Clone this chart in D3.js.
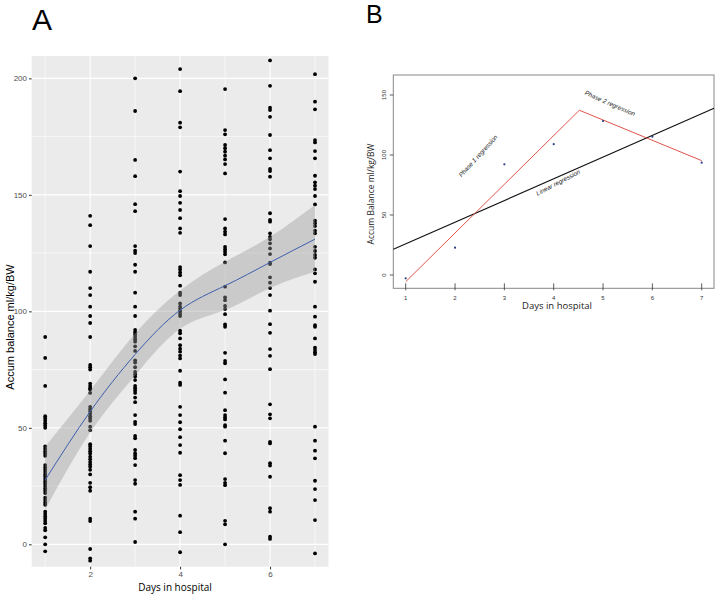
<!DOCTYPE html>
<html><head><meta charset="utf-8">
<script src="https://cdn.jsdelivr.net/npm/d3@7"></script>
<style>body{margin:0;background:#fff}svg{display:block}</style>
</head><body><svg id="c" width="716" height="595"></svg>
<script>
// ---------- Panel A data ----------
const days = [1, 2, 3, 4, 5, 6, 7];
const day1 = [89, 80, 68, 55, 54, 53, 52, 51, 50, 42, 41, 40, 39, 38, 34, 33, 32, 31, 30, 29, 28, 27, 26, 25, 24, 23, 22, 20, 19, 18, 17, 14, 13, 12, 11, 10, 9, 7, 6, 3, 0, -3];
const day2 = [141, 137, 128, 117, 110, 107, 102, 98, 95, 89, 77, 76, 75, 69, 68, 67, 66.5, 65, 59, 58, 57, 56, 55, 54, 53, 50.5, 49, 43, 42, 41, 40, 39, 37.6, 36.5, 35.3, 34.3, 33.3, 32, 30, 26.4, 24.5, 23, 11, 10, -2, -6, -7];
const day3 = [200, 186, 165, 158, 146, 143, 128, 126, 125, 120, 117, 108, 102, 98, 92, 91, 90, 89, 88, 87, 85, 83, 79, 78, 76, 74, 73, 72, 70.5, 68, 67, 66, 65, 63, 61, 55.5, 52.6, 51.6, 46.5, 45.5, 40.5, 39, 38, 37, 34, 27.6, 26, 14, 11, 1];
const day4 = [204, 194.5, 181, 179, 160, 151.6, 149.5, 146.6, 143.5, 140, 135.6, 133.7, 119, 118, 116.7, 115.5, 111, 108, 107, 103.4, 102, 101, 100, 99, 98, 91.7, 90.6, 88.4, 85.5, 84, 82.7, 81, 79.8, 74.5, 69.4, 68.4, 59, 55.5, 52.4, 49.4, 46, 42.6, 39.3, 29.7, 27.6, 25.5, 12.3, 5.2, -3.4];
const day5 = [195.4, 177.8, 176, 171.4, 170, 168.5, 166.8, 165.2, 163.2, 159.2, 139.6, 135.6, 134.2, 133, 127.7, 126.7, 125.6, 124.5, 121, 110.6, 106, 104.8, 102.3, 101, 98.8, 94.4, 93.4, 82.2, 78.7, 77.7, 70.8, 65.1, 57.6, 55.5, 54.5, 53.6, 51.2, 50.5, 44.5, 39.1, 28, 26.4, 25.4, 10.1, 8.6, 0];
const day6 = [207.7, 196.8, 187.4, 186.4, 183.5, 175.7, 169.2, 165.7, 161.1, 160.2, 157.8, 142.1, 139.2, 138.5, 133.5, 132, 130.9, 129.2, 127, 124.6, 120.9, 120.3, 114.6, 112.3, 110, 107, 100.3, 94.5, 90.8, 83.8, 80.9, 75.2, 60.1, 55.8, 54.1, 44, 43.3, 34.8, 33.8, 29, 15.5, 14, 3.3, 2.3];
const day7 = [201.8, 190, 186.7, 173.5, 172.5, 168.8, 165.7, 158.2, 155.4, 153.9, 152.5, 149.5, 145.9, 138.9, 137.8, 136.6, 134.6, 133.5, 127.7, 125.9, 124.2, 123, 118, 116.3, 112.7, 102, 97.7, 94.1, 93.4, 88.4, 84.4, 83.4, 82.4, 81.7, 50.5, 44.5, 40.2, 36.9, 27.3, 23.7, 19, 10.4, -3.9];
const smoothFit = [27.6, 57, 81.5, 100.5, 111, 121, 131];
const smoothLo = [15, 48, 72.5, 92.5, 100.6, 110, 117];
const smoothHi = [42, 66, 90.5, 109, 121.3, 132, 145.6];
const xTicksA = [2, 4, 6];
const yTicksA = [0, 50, 100, 150, 200];
const xMinorA = [1, 3, 5, 7];
const yMinorA = [25, 75, 125, 175];

// ---------- Panel B data ----------
const daysB = [1, 2, 3, 4, 5, 6, 7];
const balanceB = [-2.75, 22.8, 92.2, 109, 128.3, 115.3, 93.6];
const phaseX = [1, 4.52, 7];
const phaseY = [-5.6, 137.3, 95.3];
const linX = [0.75, 7.25];
const linY = [21.4, 138.9];
const xTicksB = [1, 2, 3, 4, 5, 6, 7];
const yTicksB = [0, 50, 100, 150];

const svg = d3.select("#c");
const sans = "'Liberation Sans', Arial, sans-serif";
const human = "'Open Sans', 'Noto Sans', sans-serif";

// ================= Panel A =================
const xA = d3.scaleLinear().domain([0.7, 7.3]).range([31.7, 328.5]);
const yA = d3.scaleLinear().domain([-9.6, 209.6]).range([566.7, 56]);
const gA = svg.append("g");
gA.append("rect").attr("x", xA.range()[0]).attr("y", yA.range()[1])
  .attr("width", xA.range()[1] - xA.range()[0]).attr("height", yA.range()[0] - yA.range()[1])
  .attr("fill", "#ebebeb");
// minor grid
gA.selectAll(".ymin").data(yMinorA).join("line")
  .attr("x1", xA.range()[0]).attr("x2", xA.range()[1])
  .attr("y1", d => yA(d)).attr("y2", d => yA(d)).attr("stroke", "#fff").attr("stroke-width", 0.6);
gA.selectAll(".xmin").data(xMinorA).join("line")
  .attr("y1", yA.range()[0]).attr("y2", yA.range()[1])
  .attr("x1", d => xA(d)).attr("x2", d => xA(d)).attr("stroke", "#fff").attr("stroke-width", 0.6);
// major grid
gA.selectAll(".ymaj").data(yTicksA).join("line")
  .attr("x1", xA.range()[0]).attr("x2", xA.range()[1])
  .attr("y1", d => yA(d)).attr("y2", d => yA(d)).attr("stroke", "#fff").attr("stroke-width", 1.1);
gA.selectAll(".xmaj").data(xTicksA).join("line")
  .attr("y1", yA.range()[0]).attr("y2", yA.range()[1])
  .attr("x1", d => xA(d)).attr("x2", d => xA(d)).attr("stroke", "#fff").attr("stroke-width", 1.1);

// points
const allCols = [day1, day2, day3, day4, day5, day6, day7];
const ptsA = [];
allCols.forEach((col, i) => col.forEach(v => ptsA.push({x: days[i], y: v})));
gA.selectAll(".pt").data(ptsA).join("circle")
  .attr("cx", d => xA(d.x)).attr("cy", d => yA(d.y)).attr("r", 1.9).attr("fill", "#000");

// ribbon + smooth
const band = days.map((d, i) => ({x: d, lo: smoothLo[i], hi: smoothHi[i], f: smoothFit[i]}));
gA.append("path").datum(band)
  .attr("d", d3.area().x(d => xA(d.x)).y0(d => yA(d.lo)).y1(d => yA(d.hi)).curve(d3.curveNatural))
  .attr("fill", "#999").attr("fill-opacity", 0.4);
gA.append("path").datum(band)
  .attr("d", d3.line().x(d => xA(d.x)).y(d => yA(d.f)).curve(d3.curveNatural))
  .attr("fill", "none").attr("stroke", "#3d5fae").attr("stroke-width", 1);

// axes A
const axLA = gA.append("g").attr("transform", `translate(${xA.range()[0]},0)`)
  .call(d3.axisLeft(yA).tickValues(yTicksA).tickFormat(d3.format("d")).tickSize(2.7).tickPadding(2));
const axBA = gA.append("g").attr("transform", `translate(0,${yA.range()[0]})`)
  .call(d3.axisBottom(xA).tickValues(xTicksA).tickFormat(d3.format("d")).tickSize(2.7).tickPadding(2));
[axLA, axBA].forEach(a => {
  a.select(".domain").remove();
  a.selectAll("line").attr("stroke", "#333");
  a.selectAll("text").attr("fill", "#4d4d4d").style("font-family", sans).style("font-size", "8px");
});
gA.append("text").attr("transform", "translate(14,327) rotate(-90)")
  .attr("text-anchor", "middle").style("font-family", sans).style("font-size", "11px")
  .text("Accum balance ml/kg/BW");
gA.append("text").attr("x", 175).attr("y", 591).attr("text-anchor", "middle")
  .style("font-family", human).style("font-size", "10px").text("Days in hospital");
svg.append("text").attr("x", 32).attr("y", 30).style("font-family", sans)
  .style("font-size", "30px").text("A");

// ================= Panel B =================
const xB = d3.scaleLinear().domain([1, 7]).range([405.7, 701.7]);
const yB = d3.scaleLinear().domain([0, 150]).range([275, 95]);
const boxB = {x0: 393.3, x1: 714, y0: 75, y1: 288.3};
const gB = svg.append("g");
gB.append("rect").attr("x", boxB.x0).attr("y", boxB.y0)
  .attr("width", boxB.x1 - boxB.x0).attr("height", boxB.y1 - boxB.y0)
  .attr("fill", "none").attr("stroke", "#888").attr("stroke-width", 1);

// x ticks
gB.selectAll(".xt").data(xTicksB).join("line")
  .attr("x1", d => xB(d)).attr("x2", d => xB(d)).attr("y1", boxB.y1 - 5).attr("y2", boxB.y1 + 2)
  .attr("stroke", "#333").attr("stroke-width", 0.8);
gB.selectAll(".xtl").data(xTicksB).join("text")
  .attr("x", d => xB(d)).attr("y", 299.5).attr("text-anchor", "middle")
  .style("font-family", sans).style("font-size", "6px").attr("fill", "#333").text(d => d);
// y ticks
gB.selectAll(".yt").data(yTicksB).join("line")
  .attr("x1", boxB.x0 - 3.5).attr("x2", boxB.x0).attr("y1", d => yB(d)).attr("y2", d => yB(d))
  .attr("stroke", "#333").attr("stroke-width", 0.8);
gB.selectAll(".ytl").data(yTicksB).join("text")
  .attr("transform", d => `translate(386,${yB(d)}) rotate(-90)`).attr("text-anchor", "middle")
  .style("font-family", sans).style("font-size", "6px").attr("fill", "#333").text(d => d);

// lines
const lineB = d3.line().x(d => xB(d[0])).y(d => yB(d[1]));
gB.append("path").datum(linX.map((d, i) => [d, linY[i]])).attr("d", lineB)
  .attr("fill", "none").attr("stroke", "#111").attr("stroke-width", 1.1);
gB.append("path").datum(phaseX.map((d, i) => [d, phaseY[i]])).attr("d", lineB)
  .attr("fill", "none").attr("stroke", "#e0544c").attr("stroke-width", 1);
// points
gB.selectAll(".pb").data(daysB.map((d, i) => [d, balanceB[i]])).join("circle")
  .attr("cx", d => xB(d[0])).attr("cy", d => yB(d[1])).attr("r", 1.1).attr("fill", "#2f3f86");

// annotations
const notes = [
  {t: "Phase 1 regression", x: 2.466, y: 99.2, a: -47.7},
  {t: "Phase 2 regression", x: 5.14, y: 143.1, a: 23.8},
  {t: "Linear regression", x: 4.09, y: 77.1, a: -27.6}
];
gB.selectAll(".note").data(notes).join("text")
  .attr("transform", d => `translate(${xB(d.x)},${yB(d.y)}) rotate(${d.a})`)
  .attr("text-anchor", "middle").attr("dy", "0.35em")
  .style("font-family", sans).style("font-size", "6.3px").style("font-style", "italic").attr("fill", "#222")
  .text(d => d.t);

gB.append("text").attr("transform", "translate(374,194) rotate(-90)").attr("text-anchor", "middle")
  .style("font-family", human).style("font-size", "8.5px").attr("fill", "#222").text("Accum Balance ml/kg/BW");
gB.append("text").attr("x", 557).attr("y", 309).attr("text-anchor", "middle")
  .style("font-family", human).style("font-size", "9.5px").attr("fill", "#222").text("Days in hospital");
svg.append("text").attr("x", 366).attr("y", 23).style("font-family", sans)
  .style("font-size", "25px").text("B");
</script>
</body></html>
